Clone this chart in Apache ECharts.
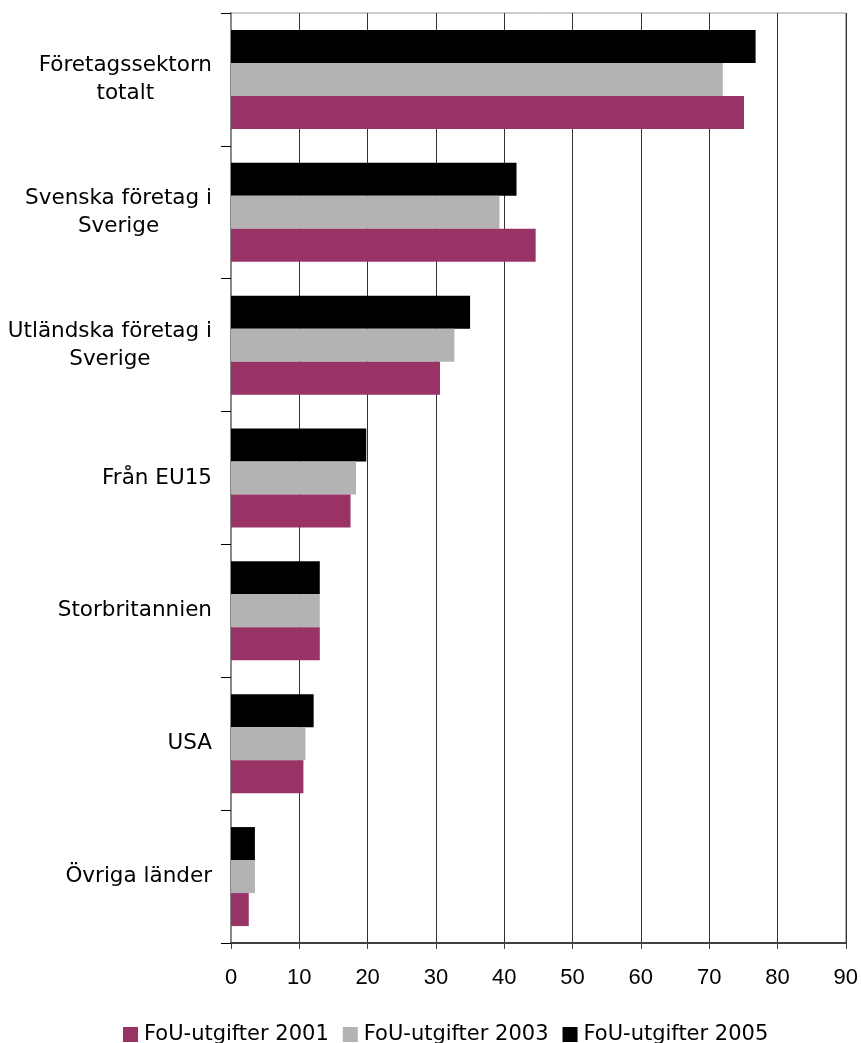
<!DOCTYPE html>
<html>
<head>
<meta charset="utf-8">
<script src="https://cdn.jsdelivr.net/npm/echarts@6/dist/echarts.min.js"></script>
<style>
html,body{margin:0;padding:0;background:#fff;}
#chart{width:861px;height:1043px;}
</style>
</head>
<body>
<div id="chart"></div>
<script>
const categories = [
  'Företagssektorn\ntotalt',
  'Svenska företag i\nSverige',
  'Utländska företag i\nSverige',
  'Från EU15',
  'Storbritannien',
  'USA',
  'Övriga länder'
];
const seriesNames = ['FoU-utgifter 2001', 'FoU-utgifter 2003', 'FoU-utgifter 2005'];
const values2001 = [75.1, 44.6, 30.6, 17.5, 13.0, 10.6, 2.6];
const values2003 = [72.0, 39.3, 32.7, 18.3, 13.0, 10.9, 3.5];
const values2005 = [76.8, 41.8, 35.0, 19.8, 13.0, 12.1, 3.5];
const xTicks = [0, 10, 20, 30, 40, 50, 60, 70, 80, 90];
const colors = ['#993366', '#b3b3b3', '#000000'];

const chart = echarts.init(document.getElementById('chart'), null, {renderer: 'canvas'});
const textFont = 'DejaVu Sans';
const dataSets = [values2001, values2003, values2005];

// draw order: 2005 on top of each group, 2001 at the bottom
const drawOrder = [2, 1, 0];

const option = {
  animation: false,
  backgroundColor: '#ffffff',
  grid: {
    left: 231, right: 14, top: 13, bottom: 100,
    show: true, borderColor: '#999999', borderWidth: 1
  },
  legend: {
    data: seriesNames,
    top: 1024,
    left: 118,
    padding: [0, 5, 0, 5],
    itemWidth: 15,
    itemHeight: 15,
    itemGap: 14,
    icon: 'rect',
    textStyle: {fontFamily: textFont, fontSize: 21, color: '#000', padding: [0, 0, 0, 1]}
  },
  xAxis: {
    type: 'value',
    min: xTicks[0],
    max: xTicks[xTicks.length - 1],
    interval: 10,
    axisLine: {show: true, lineStyle: {color: '#404040', width: 2}},
    axisTick: {show: true, length: 6, lineStyle: {color: '#404040'}},
    splitLine: {show: true, lineStyle: {color: '#333333', width: 1}},
    axisLabel: {fontFamily: 'Liberation Sans', fontSize: 22, color: '#000', margin: 24}
  },
  yAxis: {
    type: 'category',
    inverse: true,
    data: categories,
    axisLine: {show: true, lineStyle: {color: '#888888', width: 2}},
    axisTick: {show: true, length: 10, lineStyle: {color: '#000000', width: 1}},
    axisLabel: {
      margin: 19,
      formatter: function (v) {
        return v.split('\n').map(function (s) { return '{a|' + s + '}'; }).join('\n');
      },
      rich: {
        a: {fontFamily: textFont, fontSize: 21.5, color: '#000', lineHeight: 28, align: 'center'}
      }
    }
  },
  series: drawOrder.map(function (i) {
    return {
      name: seriesNames[i],
      type: 'bar',
      data: dataSets[i],
      barWidth: 33,
      barGap: '0%',
      itemStyle: {color: colors[i]}
    };
  })
};
chart.setOption(option);
</script>
</body>
</html>
